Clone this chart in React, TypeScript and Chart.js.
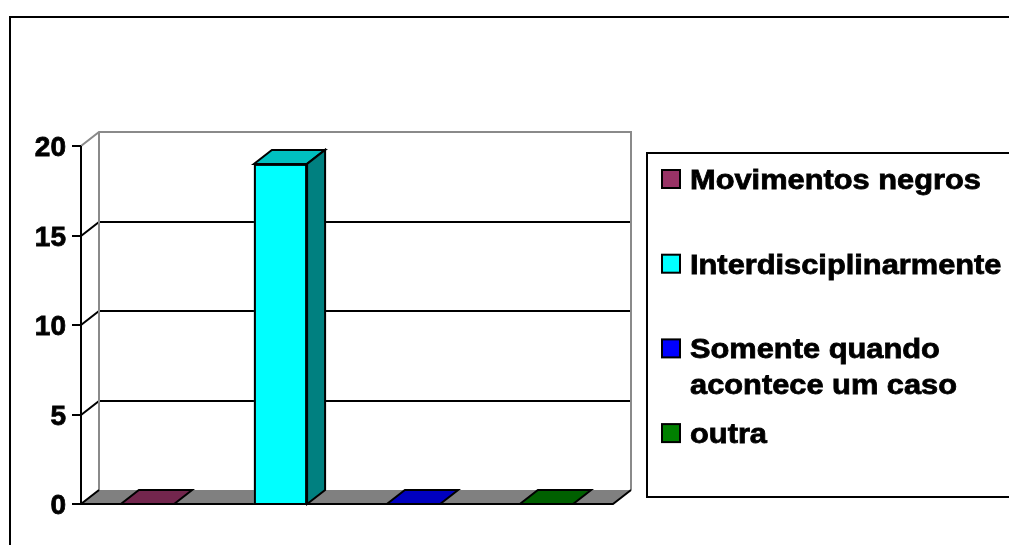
import React, { useEffect, useRef } from 'react';
import { Chart, registerables } from 'chart.js';

Chart.register(...registerables);

// ---- data ----
const categories = [''];
const seriesNames = ['Movimentos negros', 'Interdisciplinarmente', 'Somente quando acontece um caso', 'outra'];
const seriesValues = [0, 19, 0, 0];
const yTicks = [0, 5, 10, 15, 20];

// ---- styles ----
const faceColors = ['#993366', '#00FFFF', '#0000FF', '#008000'];
const topColors = ['#73264D', '#00C0C0', '#0000C0', '#006000'];
const sideColors = ['#4D1A33', '#008080', '#000080', '#004000'];
const DX = 18;
const DY = 14;
const FONT = 'bold 28px "Liberation Sans", Arial, sans-serif';

function wrapLines(ctx: CanvasRenderingContext2D, text: string, maxW: number): string[] {
  const words = text.split(' ');
  const lines: string[] = [];
  let cur = '';
  for (const w of words) {
    const test = cur ? cur + ' ' + w : w;
    if (cur && ctx.measureText(test).width > maxW) {
      lines.push(cur);
      cur = w;
    } else {
      cur = test;
    }
  }
  if (cur) lines.push(cur);
  return lines;
}

function heavyText(ctx: CanvasRenderingContext2D, s: string, x: number, y: number) {
  ctx.fillText(s, x, y);
  ctx.strokeText(s, x, y);
}

const scenePlugin = {
  id: 'scene3d',
  beforeDraw(chart: any) {
    const ctx = chart.ctx as CanvasRenderingContext2D;
    ctx.save();
    ctx.strokeStyle = '#000';
    ctx.lineWidth = 2;
    ctx.strokeRect(10, 17, 1010, 540);
    ctx.restore();
  },
  beforeDatasetsDraw(chart: any) {
    const ctx = chart.ctx as CanvasRenderingContext2D;
    const a = chart.chartArea;
    const y = chart.scales.y;
    const L = a.left;
    const R = a.right;
    const B = y.getPixelForValue(yTicks[0]);
    const T = y.getPixelForValue(yTicks[yTicks.length - 1]);
    const snap = (v: number) => Math.round(v);
    ctx.save();
    // floor
    ctx.beginPath();
    ctx.moveTo(L, B);
    ctx.lineTo(R, B);
    ctx.lineTo(R + DX, B - DY);
    ctx.lineTo(L + DX, B - DY);
    ctx.closePath();
    ctx.fillStyle = '#808080';
    ctx.fill();

    // gridlines
    ctx.strokeStyle = '#000';
    ctx.lineWidth = 2;
    for (const v of yTicks) {
      if (v === yTicks[0] || v === yTicks[yTicks.length - 1]) continue;
      const py = snap(y.getPixelForValue(v));
      ctx.beginPath();
      ctx.moveTo(L, py);
      ctx.lineTo(L + DX, py - DY);
      ctx.lineTo(R + DX, py - DY);
      ctx.stroke();
    }

    // wall borders (gray)
    ctx.strokeStyle = '#8a8a8a';
    ctx.beginPath();
    ctx.moveTo(L, T);
    ctx.lineTo(L + DX, T - DY);
    ctx.lineTo(R + DX, T - DY);
    ctx.lineTo(R + DX, B - DY);
    ctx.moveTo(L + DX, T - DY);
    ctx.lineTo(L + DX, B - DY);
    ctx.stroke();

    // floor edges (black)
    ctx.strokeStyle = '#000';
    ctx.beginPath();
    ctx.moveTo(L + DX, B - DY);
    ctx.lineTo(L, B);
    ctx.lineTo(R, B);
    ctx.lineTo(R + DX, B - DY);
    ctx.stroke();

    // value axis
    ctx.beginPath();
    ctx.moveTo(L, T);
    ctx.lineTo(L, B);
    ctx.stroke();

    // ticks + labels
    ctx.font = FONT;
    ctx.fillStyle = '#000';
    ctx.textAlign = 'right';
    ctx.textBaseline = 'alphabetic';
    for (const v of yTicks) {
      const py = snap(y.getPixelForValue(v));
      ctx.lineWidth = 2;
      ctx.beginPath();
      ctx.moveTo(L - 9, py);
      ctx.lineTo(L, py);
      ctx.stroke();
      ctx.lineWidth = 0.8;
      heavyText(ctx, String(v), L - 15, py + 10);
    }
    ctx.restore();
  },
  afterDatasetsDraw(chart: any) {
    const ctx = chart.ctx as CanvasRenderingContext2D;
    ctx.save();
    ctx.strokeStyle = '#000';
    ctx.lineWidth = 2;
    ctx.lineJoin = 'miter';
    chart.data.datasets.forEach((ds: any, i: number) => {
      const meta = chart.getDatasetMeta(i);
      meta.data.forEach((el: any) => {
        const left = el.x - el.width / 2;
        const right = el.x + el.width / 2;
        const top = el.y;
        const base = el.base;
        // top face
        ctx.beginPath();
        ctx.moveTo(left, top);
        ctx.lineTo(right, top);
        ctx.lineTo(right + DX, top - DY);
        ctx.lineTo(left + DX, top - DY);
        ctx.closePath();
        ctx.fillStyle = topColors[i];
        ctx.fill();
        ctx.stroke();
        // side face
        if (base - top > 1) {
          ctx.beginPath();
          ctx.moveTo(right, top);
          ctx.lineTo(right + DX, top - DY);
          ctx.lineTo(right + DX, base - DY);
          ctx.lineTo(right, base);
          ctx.closePath();
          ctx.fillStyle = sideColors[i];
          ctx.fill();
          ctx.stroke();
          // front outline
          ctx.strokeRect(left + 1, top + 1, right - left - 2, base - top - 1);
        }
      });
    });
    ctx.restore();
  },
  afterDraw(chart: any) {
    const ctx = chart.ctx as CanvasRenderingContext2D;
    ctx.save();
    // legend box
    ctx.strokeStyle = '#000';
    ctx.lineWidth = 2;
    ctx.strokeRect(647, 153, 380, 344);
    ctx.font = FONT;
    ctx.fillStyle = '#000';
    ctx.textAlign = 'left';
    ctx.textBaseline = 'alphabetic';
    const sx = 1.1;
    chart.data.datasets.forEach((ds: any, i: number) => {
      const baseY = 189 + i * 84.7;
      ctx.lineWidth = 2;
      ctx.fillStyle = faceColors[i];
      ctx.fillRect(662, baseY - 19, 18, 18);
      ctx.strokeStyle = '#000';
      ctx.strokeRect(662, baseY - 19, 18, 18);
      ctx.fillStyle = '#000';
      ctx.lineWidth = 0.8;
      const lines = wrapLines(ctx, ds.label, 300 / sx);
      lines.forEach((ln, k) => {
        ctx.save();
        ctx.translate(690, baseY + k * 36);
        ctx.scale(sx, 1);
        heavyText(ctx, ln, 0, 0);
        ctx.restore();
      });
    });
    ctx.restore();
  },
};

export default function App() {
  const ref = useRef<HTMLCanvasElement | null>(null);
  useEffect(() => {
    if (!ref.current) return;
    const chart = new Chart(ref.current, {
      type: 'bar',
      data: {
        labels: categories,
        datasets: seriesNames.map((name, i) => ({
          label: name,
          data: [seriesValues[i]],
          backgroundColor: faceColors[i],
          borderColor: '#000',
          borderWidth: 0,
          borderSkipped: false,
          categoryPercentage: 1,
          barPercentage: 0.4,
        })),
      },
      options: {
        responsive: false,
        animation: false,
        events: [],
        layout: { padding: { left: 81, top: 146, right: 396, bottom: 41 } },
        scales: {
          x: { display: false },
          y: { display: false, min: 0, max: 20 },
        },
        plugins: {
          legend: { display: false },
          tooltip: { enabled: false },
          title: { display: false },
        },
      },
      plugins: [scenePlugin],
    });
    return () => chart.destroy();
  }, []);
  return (
    <div style={{ position: 'absolute', left: 0, top: 0, width: 1009, height: 545, background: '#fff' }}>
      <canvas ref={ref} width={1009} height={545} style={{ display: 'block' }} />
    </div>
  );
}
